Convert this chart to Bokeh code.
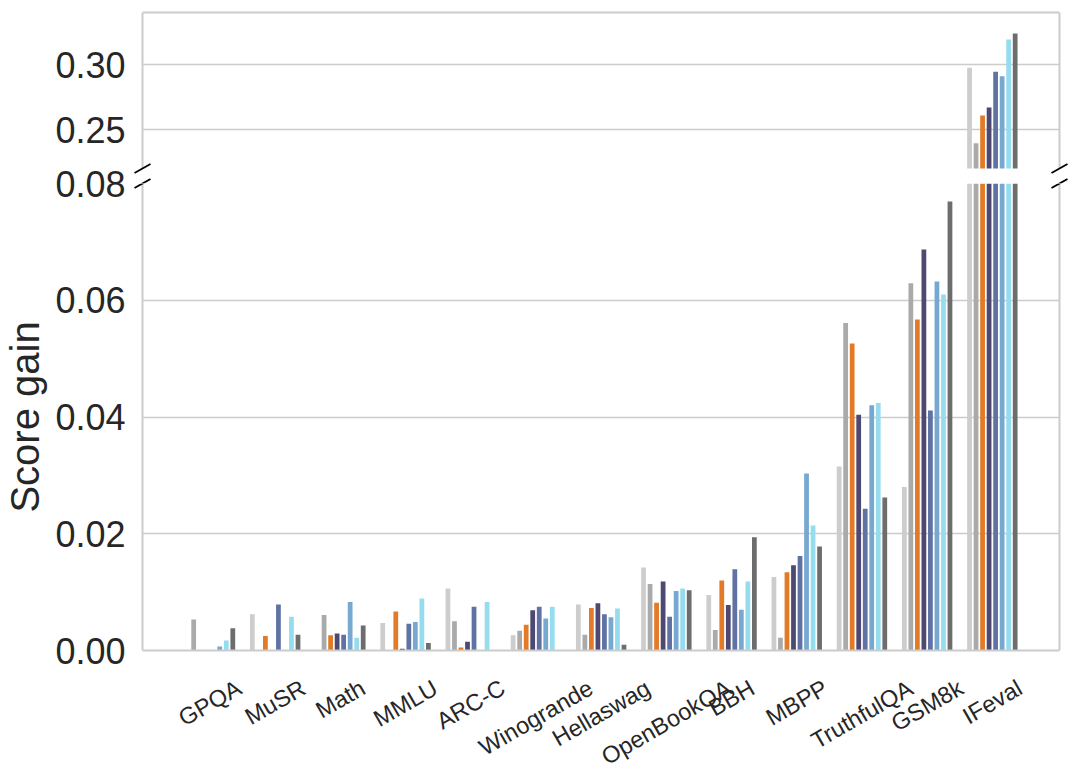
from math import pi, sin, cos
from bokeh.plotting import figure
from bokeh.models import (Range1d, FixedTicker, LinearAxis, PrintfTickFormatter,
                          ColumnDataSource, Arrow, CDSView, BooleanFilter)
from bokeh.core.properties import value
from bokeh.layouts import column
from bokeh.transform import dodge
from bokeh.embed import file_html
from bokeh.resources import INLINE

# ---------------- data ----------------
categories = ["GPQA", "MuSR", "Math", "MMLU", "ARC-C", "Winogrande", "Hellaswag",
              "OpenBookQA", "BBH", "MBPP", "TruthfulQA", "GSM8k", "IFeval"]

series_names = ["s1", "s2", "s3", "s4", "s5", "s6", "s7", "s8"]
colors = ["#cdcdcd", "#aaaaaa", "#e27a27", "#4d4973", "#5f72a3", "#77a8d0", "#95dcef", "#6d6d6d"]

s1 = [0.0000, 0.0062, 0.0000, 0.0047, 0.0106, 0.0026, 0.0079, 0.0142, 0.0095, 0.0126, 0.0315, 0.0280, 0.2975]
s2 = [0.0053, 0.0000, 0.0061, 0.0000, 0.0050, 0.0034, 0.0027, 0.0114, 0.0035, 0.0022, 0.0561, 0.0629, 0.2395]
s3 = [0.0000, 0.0025, 0.0026, 0.0067, 0.0005, 0.0044, 0.0073, 0.0082, 0.0120, 0.0134, 0.0526, 0.0567, 0.2608]
s4 = [0.0000, 0.0000, 0.0029, 0.0003, 0.0015, 0.0069, 0.0081, 0.0118, 0.0078, 0.0146, 0.0404, 0.0687, 0.2669]
s5 = [0.0000, 0.0079, 0.0027, 0.0046, 0.0075, 0.0075, 0.0062, 0.0058, 0.0139, 0.0162, 0.0243, 0.0411, 0.2944]
s6 = [0.0007, 0.0000, 0.0083, 0.0049, 0.0000, 0.0055, 0.0057, 0.0102, 0.0070, 0.0303, 0.0420, 0.0632, 0.2910]
s7 = [0.0017, 0.0058, 0.0022, 0.0089, 0.0083, 0.0075, 0.0072, 0.0106, 0.0118, 0.0214, 0.0424, 0.0610, 0.3192]
s8 = [0.0038, 0.0027, 0.0043, 0.0013, 0.0000, 0.0000, 0.0010, 0.0103, 0.0194, 0.0178, 0.0262, 0.0769, 0.3238]

top_ticks = [0.25, 0.30]
bottom_ticks = [0.00, 0.02, 0.04, 0.06, 0.08]

series = [s1, s2, s3, s4, s5, s6, s7, s8]

# ---------------- layout constants ----------------
X_START, X_END = -1.035, 13.03          # spine positions (data units)
TOP_LO, TOP_HI = 0.22, 0.34
BOT_LO, BOT_HI = 0.0, 0.08
SPINE_W = 917                           # px between the spines
EXT = 12                                # frame extends this far past each spine
GAP = 15                                # px between the two panels
TOP_H = 156
BOT_H = 467
B_TOP_BORDER = 22
B_BOTTOM_BORDER = 22
C_OVERLAP = 20
LABEL_FIG_H = 128
LABEL_TOP = 24                          # px from label-figure top to label bbox tops
LABEL_ANGLE = pi / 6
LABEL_SIZE = 23.5
GRID_C = "#cccccc"
TEXT_C = "#262626"
FONT = "Liberation Sans"
SLOT = 0.1
BAR_W = 0.073

# Liberation Sans / Arial advance widths (1/1000 em) to size the rotated label boxes
CHAR_W = {"A": 667, "B": 667, "C": 722, "E": 667, "F": 611, "G": 778, "H": 722, "I": 278,
          "K": 667, "L": 556, "M": 833, "O": 778, "P": 667, "Q": 778, "R": 722, "S": 667,
          "T": 611, "U": 722, "W": 944, "a": 556, "b": 556, "c": 500, "d": 556, "e": 556,
          "f": 278, "g": 556, "h": 556, "i": 222, "k": 500, "l": 222, "m": 833, "n": 556,
          "o": 556, "p": 556, "r": 333, "s": 500, "t": 278, "u": 556, "v": 500, "w": 722,
          "-": 333, "8": 556}

px_per_x = SPINE_W / (X_END - X_START)
ext_x = EXT / px_per_x
x_range = Range1d(X_START - ext_x, X_END + ext_x)
FRAME_W = SPINE_W + 2 * EXT

px_per_top = TOP_H / (TOP_HI - TOP_LO)
px_per_bot = BOT_H / (BOT_HI - BOT_LO)
TOP_FRAME_LO = TOP_LO - GAP / px_per_top   # top frame reaches down to the lower panel

data = {"idx": list(range(len(categories)))}
for name, vals in zip(series_names, series):
    data[name] = vals
source = ColumnDataSource(data)


def line_axis(width):
    return LinearAxis(ticker=FixedTicker(ticks=[]), axis_line_color=GRID_C, axis_line_width=width,
                      major_tick_line_color=None, minor_tick_line_color=None,
                      major_tick_out=0, major_tick_in=0, major_label_standoff=0,
                      major_label_text_font_size="0px", bounds=(X_START, X_END))


def make_fig(ylo, yhi, fh, btop, bbottom, ticks, extra_styles=None):
    kw = {}
    if extra_styles:
        kw["styles"] = extra_styles
    p = figure(x_range=x_range, y_range=Range1d(ylo, yhi), frame_width=FRAME_W, frame_height=fh,
               output_backend="svg", toolbar_location=None, x_axis_location=None,
               y_axis_location="left", min_border_left=142 - EXT, min_border_right=7,
               min_border_top=btop, min_border_bottom=bbottom, **kw)
    p.outline_line_color = None
    p.background_fill_color = None
    p.border_fill_color = None
    ax = p.yaxis[0]
    ax.ticker = FixedTicker(ticks=ticks)
    ax.formatter = PrintfTickFormatter(format="%.2f")
    ax.axis_line_color = None
    ax.major_tick_line_color = None
    ax.minor_tick_line_color = None
    ax.major_tick_out = 0
    ax.major_tick_in = 0
    ax.major_label_standoff = 17 - EXT
    ax.major_label_text_font = FONT
    ax.major_label_text_font_size = "36px"
    ax.major_label_text_color = TEXT_C
    p.ygrid.grid_line_color = GRID_C
    p.ygrid.grid_line_width = 1.5
    p.ygrid.cross_bounds = (X_START, X_END)
    p.xgrid.visible = False
    return p


def add_spines(p, lo, hi):
    p.segment(x0=[X_START, X_END], y0=[lo, lo], x1=[X_START, X_END], y1=[hi, hi],
              line_color=GRID_C, line_width=2)


def add_bars(p, clip_lo=None):
    for j, (name, col, vals) in enumerate(zip(series_names, colors, series)):
        off = (j - (len(series_names) - 1) / 2) * SLOT
        if clip_lo is None:
            p.vbar(x=dodge("idx", off, range=x_range), top=name, bottom=0, width=BAR_W,
                   source=source, fill_color=col, line_color=None)
        else:
            view = CDSView(filter=BooleanFilter([v > clip_lo for v in vals]))
            p.vbar(x=dodge("idx", off, range=x_range), top=name, bottom=clip_lo, width=BAR_W,
                   source=source, view=view, fill_color=col, line_color=None)


def break_mark(p, xc, yc, dy):
    dx = 8 / px_per_x
    p.add_layout(Arrow(end=None, x_start=xc - dx, y_start=yc - dy, x_end=xc + dx,
                       y_end=yc + dy, line_color="black", line_width=1.8))


# ---- upper panel ----
top = make_fig(TOP_FRAME_LO, TOP_HI, TOP_H + GAP, 12, 0, top_ticks)
top.add_layout(line_axis(2), "above")
add_spines(top, TOP_LO, TOP_HI)
add_bars(top, clip_lo=TOP_LO)

# ---- lower panel ----
bot = make_fig(BOT_LO, BOT_HI, BOT_H, B_TOP_BORDER, B_BOTTOM_BORDER, bottom_ticks,
               extra_styles={"margin-top": f"-{B_TOP_BORDER}px"})
bot.add_layout(line_axis(2), "below")
add_spines(bot, BOT_LO, BOT_HI)
add_bars(bot)
bax = bot.yaxis[0]
bax.axis_label = "Score gain"
bax.axis_label_text_font = FONT
bax.axis_label_text_font_size = "40px"
bax.axis_label_text_font_style = "normal"
bax.axis_label_text_color = TEXT_C
bax.axis_label_standoff = 5

# ---- break marks ----
for xc in (X_START, X_END):
    break_mark(top, xc, TOP_LO, 4.5 / px_per_top)
    break_mark(top, xc, TOP_FRAME_LO, 4.5 / px_per_top)
    break_mark(bot, xc, BOT_HI, 4.5 / px_per_bot)

# ---- category labels (rotated boxes centred on each group, tops aligned) ----
lab = figure(x_range=x_range, y_range=Range1d(0, LABEL_FIG_H), frame_width=FRAME_W,
             frame_height=LABEL_FIG_H, output_backend="svg", toolbar_location=None,
             x_axis_location=None, y_axis_location=None, min_border_left=142 - EXT,
             min_border_right=7, min_border_top=0, min_border_bottom=0,
             styles={"margin-top": f"-{C_OVERLAP}px"})
lab.outline_line_color = None
lab.background_fill_color = None
lab.border_fill_color = None
lab.xgrid.visible = False
lab.ygrid.visible = False
thick = LABEL_SIZE * 0.93
label_y = []
for s in categories:
    length = sum(CHAR_W.get(c, 556) for c in s) / 1000 * LABEL_SIZE
    half_h = (length * sin(LABEL_ANGLE) + thick * cos(LABEL_ANGLE)) / 2
    label_y.append(LABEL_FIG_H - (LABEL_TOP + half_h))
label_src = ColumnDataSource({"idx": list(range(len(categories))), "y": label_y,
                              "text": categories})
lab.text(x="idx", y="y", text="text", source=label_src, angle=LABEL_ANGLE,
         text_align="center", text_baseline="middle", text_font=value(FONT),
         text_font_size=value(f"{LABEL_SIZE}px"), text_color=TEXT_C)

layout = column(top, bot, lab)
open("out.html", "w").write(file_html(layout, INLINE))
